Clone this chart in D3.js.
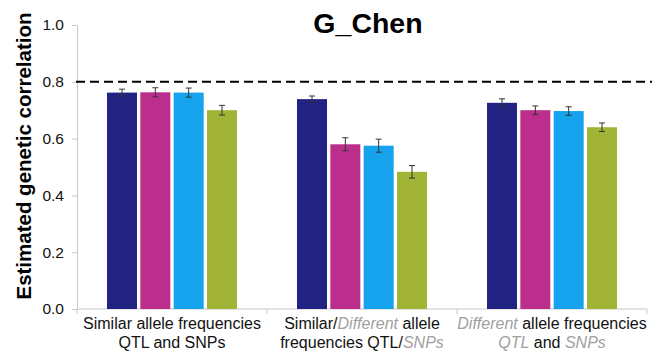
<!DOCTYPE html>
<html>
<head>
<meta charset="utf-8">
<script src="https://cdnjs.cloudflare.com/ajax/libs/d3/7.8.5/d3.min.js"></script>
<style>
body { margin: 0; background: #fff; }
svg { font-family: "Liberation Sans", Arial, sans-serif; }
</style>
</head>
<body>
<svg></svg>
<script>
var screen = {width: 666, height: 352};
var margins = {top: 25, right: 19, bottom: 43, left: 77};

var categories = ["g1", "g2", "g3"];
// label lines: each part is [text, highlighted]
var categoryLabels = [
    [[["Similar allele frequencies", false]], [["QTL and SNPs", false]]],
    [[["Similar/", false], ["Different", true], [" allele", false]],
     [["frequencies QTL/", false], ["SNPs", true]]],
    [[["Different", true], [" allele frequencies", false]],
     [["QTL", true], [" and ", false], ["SNPs", true]]]
];
var series = ["s1", "s2", "s3", "s4"];
var seriesColors = ["#222282", "#bc2e8c", "#15a3ee", "#a1b435"];
var values1 = [0.762, 0.739, 0.726];
var values2 = [0.763, 0.580, 0.700];
var values3 = [0.762, 0.575, 0.697];
var values4 = [0.700, 0.483, 0.640];
var errors1 = [0.012, 0.011, 0.014];
var errors2 = [0.016, 0.023, 0.015];
var errors3 = [0.016, 0.023, 0.015];
var errors4 = [0.017, 0.022, 0.015];
var yTicks = [0, 0.2, 0.4, 0.6, 0.8, 1.0];
var threshold = 0.8;

var allValues = [values1, values2, values3, values4];
var allErrors = [errors1, errors2, errors3, errors4];

var svg = d3.select("svg")
    .attr("width", screen.width)
    .attr("height", screen.height);

var width = 647 - margins.left;
var height = screen.height - margins.top - margins.bottom;

var xScale = d3.scaleBand()
    .domain(categories)
    .range([0, width]);

var innerScale = d3.scaleBand()
    .domain(series)
    .range([30, xScale.bandwidth() - 30])
    .paddingInner(0.1);

var yScale = d3.scaleLinear()
    .domain([0, 1])
    .range([height, 0]);

var graph = svg.append("g")
    .attr("transform", "translate(" + margins.left + "," + margins.top + ")");

// y axis
var yAxis = d3.axisLeft(yScale)
    .tickValues(yTicks)
    .tickFormat(d3.format(".1f"))
    .tickSize(5)
    .tickSizeOuter(0);

var yG = graph.append("g").call(yAxis);
yG.select(".domain").attr("stroke", "#c8c8c8");
yG.selectAll(".tick line").attr("stroke", "#c8c8c8");
yG.selectAll(".tick text")
    .attr("font-size", 15.5)
    .attr("fill", "#111")
    .attr("x", -13);

// x axis with ticks at category boundaries
graph.append("line")
    .attr("x1", 0).attr("x2", width)
    .attr("y1", height).attr("y2", height)
    .attr("stroke", "#c8c8c8");

graph.selectAll(".xtick")
    .data(categories.concat(["end"]))
    .enter()
    .append("line")
    .attr("x1", function(d, i){return i * xScale.step();})
    .attr("x2", function(d, i){return i * xScale.step();})
    .attr("y1", height)
    .attr("y2", height + 5)
    .attr("stroke", "#c8c8c8");

// bars
var groups = graph.selectAll(".group")
    .data(categories)
    .enter()
    .append("g")
    .attr("transform", function(d){return "translate(" + xScale(d) + ",0)";});

groups.each(function(cat, ci)
{
    var g = d3.select(this);
    var rows = series.map(function(s, si)
    {
        return {s: s, v: allValues[si][ci], e: allErrors[si][ci], c: seriesColors[si]};
    });

    g.selectAll("rect")
        .data(rows)
        .enter()
        .append("rect")
        .attr("x", function(d){return innerScale(d.s);})
        .attr("width", innerScale.bandwidth())
        .attr("y", function(d){return yScale(d.v);})
        .attr("height", function(d){return height - yScale(d.v);})
        .attr("fill", function(d){return d.c;});

    var err = g.selectAll(".err")
        .data(rows)
        .enter()
        .append("g")
        .attr("stroke", "#333")
        .attr("stroke-width", 1);

    err.append("line")
        .attr("x1", function(d){return innerScale(d.s) + innerScale.bandwidth() / 2;})
        .attr("x2", function(d){return innerScale(d.s) + innerScale.bandwidth() / 2;})
        .attr("y1", function(d){return yScale(d.v + d.e);})
        .attr("y2", function(d){return yScale(d.v - d.e);});

    [1, -1].forEach(function(sign)
    {
        err.append("line")
            .attr("x1", function(d){return innerScale(d.s) + innerScale.bandwidth() / 2 - 3;})
            .attr("x2", function(d){return innerScale(d.s) + innerScale.bandwidth() / 2 + 3;})
            .attr("y1", function(d){return yScale(d.v + sign * d.e);})
            .attr("y2", function(d){return yScale(d.v + sign * d.e);});
    });
});

// threshold line
graph.append("line")
    .attr("x1", -1).attr("x2", width + 5)
    .attr("y1", yScale(threshold)).attr("y2", yScale(threshold))
    .attr("stroke", "#000")
    .attr("stroke-width", 2)
    .attr("stroke-dasharray", "9,5");

// category labels
groups.each(function(cat, ci)
{
    var lines = categoryLabels[ci];
    var text = d3.select(this).append("text")
        .attr("text-anchor", "middle")
        .attr("font-size", 16)
        .attr("fill", "#111");
    lines.forEach(function(parts, li)
    {
        var line = text.append("tspan")
            .attr("x", xScale.bandwidth() / 2)
            .attr("y", height + 20 + li * 19);
        parts.forEach(function(p)
        {
            line.append("tspan")
                .text(p[0])
                .attr("fill", p[1] ? "#a0a0a0" : "#111")
                .attr("font-style", p[1] ? "italic" : "normal");
        });
    });
});

// title
svg.append("text")
    .attr("x", 368)
    .attr("y", 33)
    .attr("text-anchor", "middle")
    .attr("font-size", 28.5)
    .attr("font-weight", "bold")
    .text("G_Chen");

// y label
svg.append("text")
    .attr("transform", "translate(31,156) rotate(-90)")
    .attr("text-anchor", "middle")
    .attr("font-size", 20.5)
    .attr("font-weight", "bold")
    .text("Estimated genetic correlation");
</script>
</body>
</html>
